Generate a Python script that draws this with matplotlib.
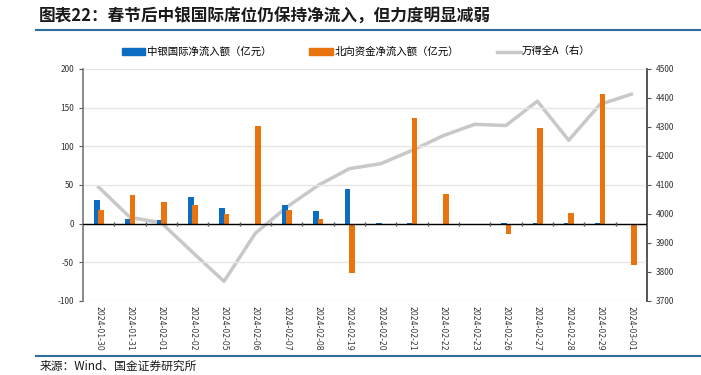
import numpy as np
import matplotlib.pyplot as plt
import matplotlib
from matplotlib.lines import Line2D
from matplotlib.patches import Patch

plt.rcParams['font.family'] = ['Noto Sans CJK SC', 'DejaVu Sans']
plt.rcParams['axes.unicode_minus'] = False

dates = ['2024-01-30', '2024-01-31', '2024-02-01', '2024-02-02', '2024-02-05', '2024-02-06',
         '2024-02-07', '2024-02-08', '2024-02-19', '2024-02-20', '2024-02-21', '2024-02-22',
         '2024-02-23', '2024-02-26', '2024-02-27', '2024-02-28', '2024-02-29', '2024-03-01']
boc_intl = [30, 6, 5, 34, 20, -2, 24, 16, 45, 1, 1, -1, -1, 1, 1, 1, 1, -1]
northbound = [18, 37, 28, 24, 12, 126, 17, 6, -64, -1, 137, 38, -1, -13, 123, 13, 167, -54]
wind_a = [4092, 3988, 3969, 3867, 3767, 3933, 4023, 4098, 4156,
          4173, 4219, 4270, 4309, 4305, 4389, 4254, 4378, 4413]

c_blue = '#0b6cc0'
c_orange = '#e8730f'
c_gray = '#c8c8c8'

fig = plt.figure(figsize=(7.01, 3.75), dpi=100)
ax1 = fig.add_axes([0.1184, 0.198, 0.8046, 0.618])
ax2 = ax1.twinx()

x = np.arange(len(dates))
w = 0.18
ax1.bar(x - 0.06, boc_intl, w, color=c_blue, zorder=3)
ax1.bar(x + 0.08, northbound, w, color=c_orange, zorder=3)
ax1.axhline(0, color='black', linewidth=1, zorder=4)
ax1.plot(x[:-1] + 0.5, np.zeros(len(x) - 1), linestyle='none', marker='|',
         markersize=3, color='#555555', zorder=4)

ax1.set_ylim(-100, 200)
ax1.set_yticks(range(-100, 201, 50))
ax1.set_xlim(-0.5, len(dates) - 0.5)
ax1.set_xticks(x)
ax1.set_xticklabels(dates, rotation=270, fontsize=5.6, family='DejaVu Sans', color='#333333')
ax1.tick_params(axis='x', length=0, pad=4)
ax1.tick_params(axis='y', labelsize=6, length=3, color='#555555', width=0.8, labelcolor='#333333')
ax1.grid(axis='y', color='#e6e6e6', linewidth=1, zorder=0)
ax1.set_axisbelow(True)

ax2.plot(x, wind_a, color=c_gray, linewidth=2.5, zorder=2)
ax2.set_ylim(3700, 4500)
ax2.set_yticks(range(3700, 4501, 100))
ax2.tick_params(axis='y', labelsize=6, length=3, color='#555555', width=0.8, labelcolor='#333333')

ax1.set_zorder(ax2.get_zorder() + 1)
ax1.patch.set_visible(False)

for a in (ax1, ax2):
    a.spines['top'].set_visible(False)
    a.spines['bottom'].set_visible(False)
    a.spines['left'].set_color('#777777')
    a.spines['right'].set_color('#555555')
    a.spines['left'].set_linewidth(1.2)
    a.spines['right'].set_linewidth(1.2)
ax2.spines['left'].set_visible(False)

handles = [Patch(color=c_blue), Patch(color=c_orange),
           Line2D([0], [0], color=c_gray, linewidth=2.5)]
labels = ['中银国际净流入额（亿元）', '北向资金净流入额（亿元）', '万得全A（右）']
fig.legend(handles, labels, loc='center', bbox_to_anchor=(0.508, 0.861), ncol=3,
           frameon=False, fontsize=7.5, handlelength=2.3, handleheight=0.55,
           columnspacing=3.6, handletextpad=0.15)

fig.text(0.055, 0.956, '图表22：春节后中银国际席位仍保持净流入，但力度明显减弱',
         fontsize=12, fontweight='bold', style='italic', color='#1a1a1a', va='center')
fig.add_artist(Line2D([0.051, 1.0], [0.921, 0.921], color='#2e6e9e', linewidth=1.5))
fig.add_artist(Line2D([0.051, 1.0], [0.05, 0.05], color='#2e6e9e', linewidth=1.5))
fig.text(0.057, 0.022, '来源：Wind、国金证券研究所', fontsize=8.5, color='#1a1a1a', va='center')

plt.savefig('out.png', dpi=100)
